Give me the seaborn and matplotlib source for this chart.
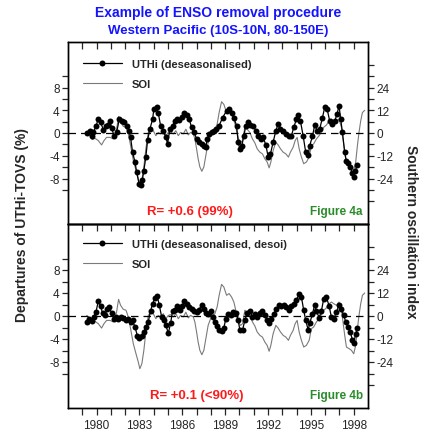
import numpy as np
import pandas as pd
import matplotlib
matplotlib.use("Agg")
import matplotlib.pyplot as plt
from matplotlib.lines import Line2D
import seaborn as sns

# ---------------- data ----------------
uthi_years = [1979.31, 1979.54, 1979.66, 1979.77, 1979.96, 1980.12, 1980.28, 1980.47, 1980.66, 1980.77,
              1980.94, 1981.05, 1981.24, 1981.40, 1981.59, 1981.75, 1981.92, 1982.10, 1982.27, 1982.38,
              1982.52, 1982.69, 1982.80, 1982.97, 1983.10, 1983.20, 1983.31, 1983.45, 1983.57, 1983.73,
              1983.92, 1984.01, 1984.20, 1984.32, 1984.48, 1984.67, 1984.85, 1984.97, 1985.13, 1985.32,
              1985.48, 1985.65, 1985.79, 1985.97, 1986.14, 1986.30, 1986.49, 1986.65, 1986.81, 1987.00,
              1987.18, 1987.35, 1987.51, 1987.65, 1987.74, 1987.88, 1988.05, 1988.21, 1988.35, 1988.58,
              1988.82, 1989.10, 1989.28, 1989.45, 1989.61, 1989.80, 1989.91, 1990.03, 1990.17, 1990.31,
              1990.45, 1990.61, 1990.77, 1990.96, 1991.15, 1991.31, 1991.50, 1991.66, 1991.85, 1992.01,
              1992.17, 1992.36, 1992.55, 1992.71, 1992.87, 1993.06, 1993.29, 1993.48, 1993.64, 1993.80,
              1993.99, 1994.11, 1994.27, 1994.46, 1994.64, 1994.81, 1994.92, 1995.11, 1995.27, 1995.44,
              1995.62, 1995.81, 1995.97, 1996.14, 1996.32, 1996.51, 1996.67, 1996.83, 1996.97, 1997.09,
              1997.21, 1997.37, 1997.49, 1997.63, 1997.77, 1997.91, 1998.00, 1998.12, 1998.23]
uthi_deseas = [0.0, 0.4, -0.5, 0.1, 1.2, 2.5, 1.9, 0.6, 1.2, 1.4,
               2.1, 0.8, -0.5, 0.1, 2.4, 2.1, 1.9, 1.3, 0.4, -0.75,
               -3.4, -5.1, -6.8, -8.9, -9.2, -8.3, -6.6, -4.2, -1.3, 0.7,
               2.4, 4.2, 4.5, 3.5, 1.3, 0.4, -0.75, -1.9, 0.7, 1.2,
               2.1, 2.4, 2.3, 2.9, 3.6, 3.1, 2.4, 1.0, 0.2, -1.0,
               -1.5, -1.9, -2.2, -2.5, -1.0, -0.2, 0.1, 0.4, 0.7, 1.3,
               2.7, 3.9, 4.2, 3.6, 2.7, 1.3, -1.6, -2.8, -2.2, -0.5,
               1.3, 2.0, 1.4, 1.2, 0.4, -0.5, -1.0, -0.75, -2.1, -4.2,
               -3.7, -1.6, 0.4, 1.6, 0.7, 0.4, -0.2, -0.6, -0.5, 1.0,
               2.4, 3.1, 2.1, -0.5, -3.4, -3.9, -2.2, -0.6, 1.4, 0.4,
               0.7, 2.7, 4.5, 4.2, 2.1, 1.6, 2.1, 3.3, 4.8, 2.4,
               0.1, -3.4, -5.0, -5.2, -6.0, -7.1, -7.7, -6.6, -5.7]

desoi_years = [1979.35, 1979.49, 1979.66, 1979.82, 1979.96, 1980.12, 1980.28, 1980.42, 1980.59, 1980.75,
               1980.89, 1981.05, 1981.22, 1981.36, 1981.52, 1981.68, 1981.87, 1982.06, 1982.22, 1982.38,
               1982.52, 1982.69, 1982.85, 1982.99, 1983.15, 1983.31, 1983.45, 1983.62, 1983.78, 1983.92,
               1984.08, 1984.25, 1984.39, 1984.55, 1984.71, 1984.85, 1985.02, 1985.18, 1985.32, 1985.48,
               1985.65, 1985.83, 1986.00, 1986.14, 1986.30, 1986.49, 1986.65, 1986.81, 1987.00, 1987.18,
               1987.35, 1987.51, 1987.65, 1987.81, 1987.98, 1988.12, 1988.28, 1988.44, 1988.58, 1988.75,
               1988.91, 1989.05, 1989.21, 1989.38, 1989.56, 1989.75, 1989.91, 1990.03, 1990.22, 1990.38,
               1990.54, 1990.73, 1990.91, 1991.08, 1991.24, 1991.43, 1991.61, 1991.78, 1991.94, 1992.08,
               1992.24, 1992.41, 1992.59, 1992.78, 1992.94, 1993.11, 1993.29, 1993.48, 1993.64, 1993.80,
               1993.99, 1994.18, 1994.34, 1994.50, 1994.64, 1994.81, 1994.92, 1995.11, 1995.27, 1995.39,
               1995.58, 1995.74, 1995.90, 1996.09, 1996.28, 1996.44, 1996.60, 1996.79, 1996.97, 1997.14,
               1997.30, 1997.44, 1997.60, 1997.77, 1997.91, 1998.00, 1998.14, 1998.26]
uthi_desoi = [-1.0, -0.5, -0.9, -0.1, 0.7, 2.6, 1.7, 0.5, 0.1, 1.3,
              1.6, 0.5, -0.5, -0.1, -0.5, -0.2, -0.3, -0.75, -0.5, -1.0,
              -0.75, -1.9, -3.4, -3.9, -3.5, -2.8, -1.9, -1.0, 0.9, 2.1,
              3.2, 3.4, 1.9, -0.1, -0.75, -1.6, -3.0, -1.3, 0.9, 1.1,
              1.7, 1.1, 1.7, 2.6, 2.1, 1.6, 1.3, 0.9, 0.7, 1.1,
              1.9, 1.3, 0.5, 0.4, 0.9, -0.2, -1.0, -1.8, -2.5, -2.6,
              -2.0, -0.5, 0.4, 0.1, 0.7, 0.5, -0.75, -2.4, -2.4, -0.75,
              0.5, 0.9, -0.2, 0.4, -0.1, 0.5, 0.9, 0.1, -0.75, -1.2,
              -0.5, 0.4, 1.3, 2.0, 1.7, 1.9, 1.6, 1.1, 1.7, 2.1,
              2.8, 3.8, 3.3, 1.0, -0.75, -2.4, -1.3, 0.4, 1.9, 0.9,
              -0.3, 0.9, 3.0, 3.3, 1.7, -0.2, -0.5, 0.7, 1.9, 1.3,
              0.1, -1.0, -1.9, -2.8, -4.2, -4.7, -3.1, -2.0]

soi_years = [1979.31, 1979.54, 1979.70, 1979.89, 1980.12, 1980.35, 1980.52, 1980.70, 1980.94, 1981.17,
             1981.40, 1981.54, 1981.68, 1981.87, 1982.06, 1982.22, 1982.38, 1982.57, 1982.76, 1982.92,
             1983.03, 1983.17, 1983.31, 1983.45, 1983.62, 1983.78, 1983.97, 1984.15, 1984.32, 1984.48,
             1984.67, 1984.85, 1985.02, 1985.18, 1985.37, 1985.55, 1985.72, 1985.88, 1986.07, 1986.25,
             1986.42, 1986.58, 1986.77, 1986.88, 1987.00, 1987.11, 1987.23, 1987.37, 1987.51, 1987.65,
             1987.81, 1987.98, 1988.12, 1988.28, 1988.44, 1988.58, 1988.75, 1988.91, 1989.10, 1989.28,
             1989.45, 1989.61, 1989.80, 1989.94, 1990.08, 1990.22, 1990.38, 1990.54, 1990.73, 1990.91,
             1991.08, 1991.24, 1991.43, 1991.61, 1991.78, 1991.94, 1992.08, 1992.20, 1992.36, 1992.55,
             1992.71, 1992.87, 1993.06, 1993.25, 1993.43, 1993.57, 1993.76, 1993.90, 1994.04, 1994.18,
             1994.34, 1994.50, 1994.69, 1994.88, 1995.04, 1995.20, 1995.39, 1995.58, 1995.74, 1995.90,
             1996.09, 1996.28, 1996.44, 1996.60, 1996.79, 1996.97, 1997.14, 1997.25, 1997.37, 1997.49,
             1997.67, 1997.84, 1998.00, 1998.14, 1998.26, 1998.37, 1998.49, 1998.61, 1998.77]
soi = [0.3, -1.4, -3.5, -2.8, -4.0, -6.3, -4.0, -2.3, -2.3, -3.1,
       2.0, 8.7, 5.6, 3.5, 3.0, -0.5, -6.6, -14.4, -19.7, -24.0,
       -27.5, -24.9, -17.9, -8.3, 0.3, 2.0, 1.2, -1.4, 0.3, -0.5,
       1.2, -1.4, 0.3, 0.7, -0.5, 1.2, -1.4, 0.3, -0.5, 2.0,
       -1.0, 0.3, -0.5, -3.1, -8.3, -13.6, -17.9, -20.2, -17.9, -11.8,
       -4.9, -1.4, 0.3, 1.2, 4.7, 10.8, 16.5, 15.1, 10.8, 11.7,
       9.9, 7.3, 1.2, -3.1, -4.9, -4.0, 3.0, 2.0, 0.3, -3.1,
       -5.2, -8.3, -10.1, -11.0, -13.6, -15.3, -18.4, -15.3, -9.2, -4.9,
       -6.3, -8.3, -10.1, -11.0, -12.7, -10.1, -7.5, -4.0, -2.3, -8.3,
       -12.7, -16.2, -15.3, -12.7, -6.6, -5.7, -3.1, -1.4, 0.7, 3.0,
       4.2, 6.4, 7.3, 6.4, 5.6, 7.3, 3.0, -3.1, -10.1, -16.2,
       -17.0, -17.9, -19.7, -15.3, -6.6, 0.3, 6.4, 10.8, 12.0]

year_ticks = list(range(1979, 1999))
year_labels = [str(y) if (y - 1980) % 3 == 0 else "" for y in year_ticks]
left_ticks = list(range(-10, 11, 2))
left_labels = [str(v) if (v % 4 == 0 and abs(v) <= 8) else "" for v in left_ticks]
right_ticks = list(range(-36, 37, 6))
right_labels = [str(v) if (v % 12 == 0 and abs(v) <= 24) else "" for v in right_ticks]

panels = [
    dict(years=uthi_years, vals=uthi_deseas, label="UTHi (deseasonalised)",
         r_text="R= +0.6 (99%)", fig_text="Figure 4a", r_x=0.407, leg_y=0.905),
    dict(years=desoi_years, vals=uthi_desoi, label="UTHi (deseasonalised, desoi)",
         r_text="R= +0.1 (<90%)", fig_text="Figure 4b", r_x=0.43, leg_y=0.92),
]

# ---------------- style ----------------
sns.set_style("ticks")
plt.rcParams["font.family"] = ["Liberation Sans", "DejaVu Sans"]
plt.rcParams["axes.linewidth"] = 1.0

W, H = 424, 435
fig = plt.figure(figsize=(W / 100, H / 100), dpi=100)
ax_top = fig.add_axes([68 / W, 1 - 225 / H, 300 / W, 182 / H])
ax_bot = fig.add_axes([68 / W, 1 - 409 / H, 300 / W, 184 / H])
axes = [ax_top, ax_bot]

soi_df = pd.DataFrame({"year": soi_years, "soi": soi})

for i, (ax, p) in enumerate(zip(axes, panels)):
    ax2 = ax.twinx()
    sns.lineplot(data=soi_df, x="year", y="soi", ax=ax2, color="#7a7a7a",
                 lw=0.8, legend=False)
    df = pd.DataFrame({"year": p["years"], "val": p["vals"]})
    sns.lineplot(data=df, x="year", y="val", ax=ax, color="black", lw=0.9,
                 marker="o", markersize=4.3, markeredgewidth=0, legend=False)
    ax.set_zorder(ax2.get_zorder() + 1)
    ax.patch.set_visible(False)
    ax.axhline(0, color="black", lw=0.9, ls=(0, (6, 4)), zorder=0)

    ax.set_xlim(1978, 1999)
    ax.set_ylim(-16, 16)
    ax2.set_ylim(-48, 48)
    ax.set_xlabel("")
    ax.set_ylabel("")
    ax2.set_xlabel("")
    ax2.set_ylabel("")

    ax.set_yticks(left_ticks)
    ax.set_yticklabels(left_labels)
    ax2.set_yticks(right_ticks)
    ax2.set_yticklabels(right_labels)
    ax.tick_params(axis="y", direction="out", length=4, width=0.9, labelsize=8.5, pad=2,
                   left=True, right=False)
    ax2.tick_params(axis="y", direction="out", length=4, width=0.9, labelsize=8.5, pad=2)

    ax.set_xticks(year_ticks)
    if i == 0:
        ax.set_xticklabels([""] * len(year_ticks))
        ax.tick_params(axis="x", direction="in", top=True, bottom=False,
                       length=5, width=0.9, labelbottom=False)
    else:
        ax.set_xticklabels(year_labels)
        ax.tick_params(axis="x", direction="out", top=False, bottom=True,
                       length=5, width=0.9, labelsize=8.5, pad=3)
        sec = ax.secondary_xaxis("top")
        sec.set_xticks(year_ticks)
        sec.set_xticklabels([""] * len(year_ticks))
        sec.tick_params(axis="x", direction="in", length=5, width=0.9)

    for sp in list(ax.spines.values()) + list(ax2.spines.values()):
        sp.set_visible(True)
        sp.set_linewidth(1.0)
        sp.set_color("black")

    handles = [Line2D([], [], color="black", lw=0.9, marker="o", markersize=4.3,
                      markeredgewidth=0),
               Line2D([], [], color="#7a7a7a", lw=0.8)]
    ax.legend(handles, [p["label"], "SOI"], loc="upper left",
              bbox_to_anchor=(0.05, p["leg_y"]), frameon=False, borderpad=0,
              borderaxespad=0, handlelength=3.5, handletextpad=0.9,
              labelspacing=0.9, numpoints=1, prop=dict(weight="bold", size=8))

    ax.text(p["r_x"], 0.072, p["r_text"], transform=ax.transAxes, ha="center",
            va="center", color="#ff1a1a", fontsize=9.5, fontweight="bold")
    ax.text(0.983, 0.072, p["fig_text"], transform=ax.transAxes, ha="right",
            va="center", color="#2a8c2a", fontsize=8.5, fontweight="bold")

fig.text(0.514, 1 - 13 / H, "Example of ENSO removal procedure", ha="center",
         va="center", color="#1414ff", fontsize=10, fontweight="bold")
fig.text(0.514, 1 - 31 / H, "Western Pacific (10S-10N, 80-150E)", ha="center",
         va="center", color="#1414ff", fontsize=9.5, fontweight="bold")
fig.text(22 / W, 1 - 225 / H, "Departures of UTHi-TOVS (%)", rotation=90,
         ha="center", va="center", fontsize=10, fontweight="bold")
fig.text(411 / W, 1 - 232 / H, "Southern oscillation index", rotation=270,
         ha="center", va="center", fontsize=10, fontweight="bold")

fig.savefig("out.png", dpi=100, facecolor="white")
